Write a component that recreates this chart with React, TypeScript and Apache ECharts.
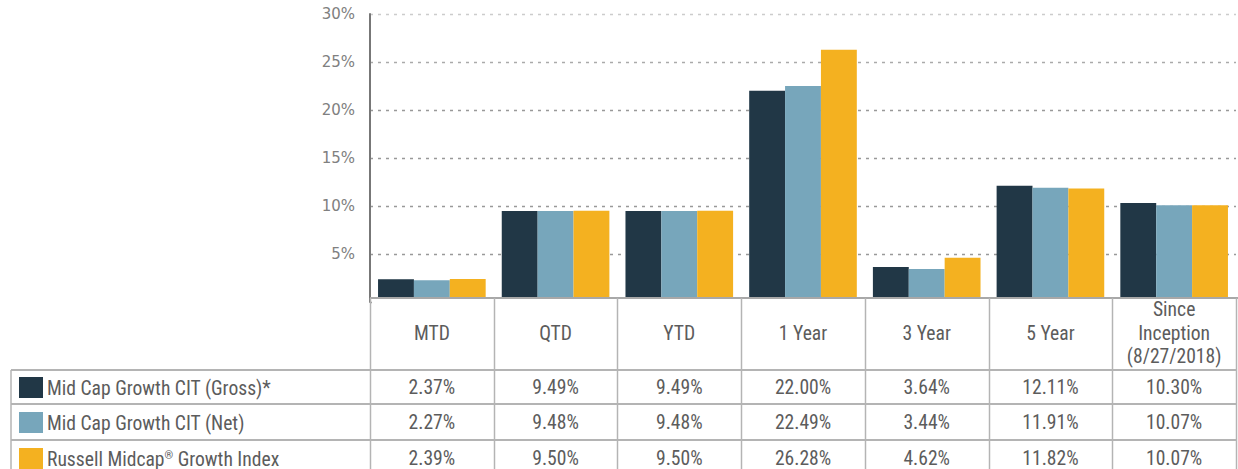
import React, { useEffect, useRef } from "react";
import * as echarts from "echarts";

const categories = ["MTD", "QTD", "YTD", "1 Year", "3 Year", "5 Year", "Since\nInception\n(8/27/2018)"];
const seriesNames = ["Mid Cap Growth CIT (Gross)*", "Mid Cap Growth CIT (Net)", "Russell Midcap® Growth Index"];
const gross = [2.37, 9.49, 9.49, 22.0, 3.64, 12.11, 10.3];
const net = [2.27, 9.48, 9.48, 22.49, 3.44, 11.91, 10.07];
const index = [2.39, 9.5, 9.5, 26.28, 4.62, 11.82, 10.07];
const yTicks = [0, 5, 10, 15, 20, 25, 30];

const COLORS = ["#213746", "#77A6BB", "#F4B120"];
const W = 1238;
const H = 469;
const GRID_LEFT = 370;
const GRID_RIGHT_X = 1236;
const GRID_TOP = 14;
const GRID_BOTTOM_Y = 302;
const AXIS_Y = 298;
const ROW_LINES = [370, 404, 440];
const ROW_CENTERS = [387, 422, 458];
const TABLE_LEFT = 11;
const FONT_T = "'Roboto Condensed', 'Liberation Sans Narrow', 'Arial Narrow', 'DejaVu Sans Condensed', Roboto, sans-serif";
const TXT = "#5c5c5c";
const FS = 19.6;
const LINE = "#b4b4b4";

export default function App() {
  const ref = useRef<HTMLDivElement>(null);
  useEffect(() => {
    if (!ref.current) return;
    const chart = echarts.init(ref.current, null, { renderer: "svg" });
    const data = [gross, net, index];
    const n = categories.length;
    const catW = (GRID_RIGHT_X - GRID_LEFT) / n;
    const graphics: any[] = [];
    graphics.push({ type: "rect", z: 100, shape: { x: GRID_LEFT + 2, y: AXIS_Y + 1, width: W - GRID_LEFT, height: GRID_BOTTOM_Y - AXIS_Y + 2 }, style: { fill: "#fff" } });
    graphics.push({ type: "line", z: 101, shape: { x1: GRID_LEFT, y1: AXIS_Y, x2: W, y2: AXIS_Y }, style: { stroke: "#a8a8a8", lineWidth: 2 } });
    for (let i = 0; i <= n; i++) {
      const x = Math.round(GRID_LEFT + i * catW) + 0.5;
      graphics.push({ type: "line", z: 101, shape: { x1: x, y1: AXIS_Y, x2: x, y2: H }, style: { stroke: LINE, lineWidth: 1.5 } });
    }
    graphics.push({ type: "line", z: 101, shape: { x1: TABLE_LEFT, y1: ROW_LINES[0], x2: TABLE_LEFT, y2: H }, style: { stroke: LINE, lineWidth: 1.5 } });
    ROW_LINES.forEach((y) => {
      graphics.push({ type: "line", z: 101, shape: { x1: TABLE_LEFT, y1: y, x2: GRID_RIGHT_X, y2: y }, style: { stroke: LINE, lineWidth: 2 } });
    });
    seriesNames.forEach((name, r) => {
      graphics.push({ type: "rect", z: 102, shape: { x: 19, y: ROW_CENTERS[r] - 10, width: 24, height: 21 }, style: { fill: COLORS[r] } });
      const txt = name.replace("®", "{sup|®}");
      graphics.push({
        type: "text", z: 102, x: 47, y: ROW_CENTERS[r] + 1,
        style: {
          text: txt, fill: TXT, fontSize: FS, fontFamily: FONT_T, fontWeight: "normal",
          verticalAlign: "middle", align: "left",
          rich: { sup: { fontSize: 11, fontFamily: FONT_T, fill: TXT, padding: [0, 0, 8, 0] } },
        },
      });
    });

    const valueAxes = data.map((arr, r) => ({
      type: "category",
      gridIndex: 0,
      position: "bottom",
      offset: ROW_CENTERS[r] - GRID_BOTTOM_Y,
      data: arr.map((v) => v.toFixed(2) + "%"),
      axisLine: { show: false },
      axisTick: { show: false },
      splitLine: { show: false },
      axisLabel: { interval: 0, margin: 0, verticalAlign: "middle", fontSize: FS, fontFamily: FONT_T, color: TXT },
      z: 110,
    }));

    chart.setOption({
      animation: false,
      grid: { left: GRID_LEFT, right: W - GRID_RIGHT_X, top: GRID_TOP, bottom: H - GRID_BOTTOM_Y, containLabel: false },
      xAxis: [
        {
          type: "category",
          data: categories,
          axisLine: { show: false },
          axisTick: { show: false },
          splitLine: { show: false },
          axisLabel: { interval: 0, margin: 31, verticalAlign: "middle", fontSize: FS, lineHeight: 23.5, fontFamily: FONT_T, color: TXT },
          z: 110,
        },
        ...valueAxes,
      ],
      yAxis: {
        type: "value",
        min: yTicks[0],
        max: yTicks[yTicks.length - 1],
        interval: 5,
        axisLine: { show: true, lineStyle: { color: "#777", width: 2 } },
        axisTick: { show: false },
        axisLabel: {
          margin: 15,
          fontSize: 15,
          fontFamily: "'DejaVu Sans', sans-serif",
          color: "#808080",
          formatter: (v: number) => (v === 0 ? "" : v + "%"),
        },
        splitLine: {
          show: true,
          lineStyle: { color: ["#999", "#999", "#999", "#999", "#999", "#aaa", "#ccc"], type: [3, 5], width: 1.3 },
        },
      },
      series: data.map((arr, i) => ({
        type: "bar",
        name: seriesNames[i],
        data: arr,
        itemStyle: { color: COLORS[i] },
        barGap: "0%",
        barCategoryGap: "13%",
      })),
      graphic: graphics,
    });
    return () => chart.dispose();
  }, []);
  return <div ref={ref} style={{ position: "fixed", left: 0, top: 0, width: W, height: H, background: "#fff" }} />;
}
